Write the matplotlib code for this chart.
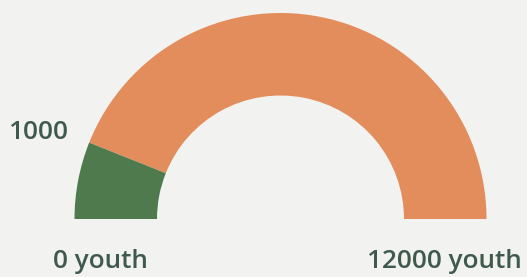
import numpy as np
import matplotlib.pyplot as plt
from matplotlib.patches import Wedge

# gauge data
gauge_min = 0
gauge_max = 12000
value = 1450
unit = "youth"
marker_label = "1000"

bg = "#f2f2f0"
green = "#4f7a4d"
orange = "#e38c5c"
txt = "#3d5a4c"

fig = plt.figure(figsize=(5.27, 2.77), dpi=100)
fig.patch.set_facecolor(bg)
ax = fig.add_axes([0, 0, 1, 1])
ax.set_xlim(0, 527)
ax.set_ylim(0, 277)
ax.set_aspect("equal")
ax.axis("off")

cx, cy = 280.5, 58
r_out, r_in = 206, 123.5
frac = (value - gauge_min) / (gauge_max - gauge_min)
split = 180 - 180 * frac

ax.add_patch(Wedge((cx, cy), r_out, 0, split, width=r_out - r_in,
                   facecolor=orange, edgecolor="none"))
ax.add_patch(Wedge((cx, cy), r_out, split, 180, width=r_out - r_in,
                   facecolor=green, edgecolor="none"))

font = dict(family=["Open Sans", "DejaVu Sans"], fontsize=18.8, color=txt,
            weight=600, ha="center", va="baseline")
ax.text(100, 9, f"{gauge_min} {unit}", **font)
ax.text(444, 9, f"{gauge_max} {unit}", **font)
ax.text(39, 138, marker_label, **font)

fig.savefig("out.png", dpi=100, facecolor=bg)
